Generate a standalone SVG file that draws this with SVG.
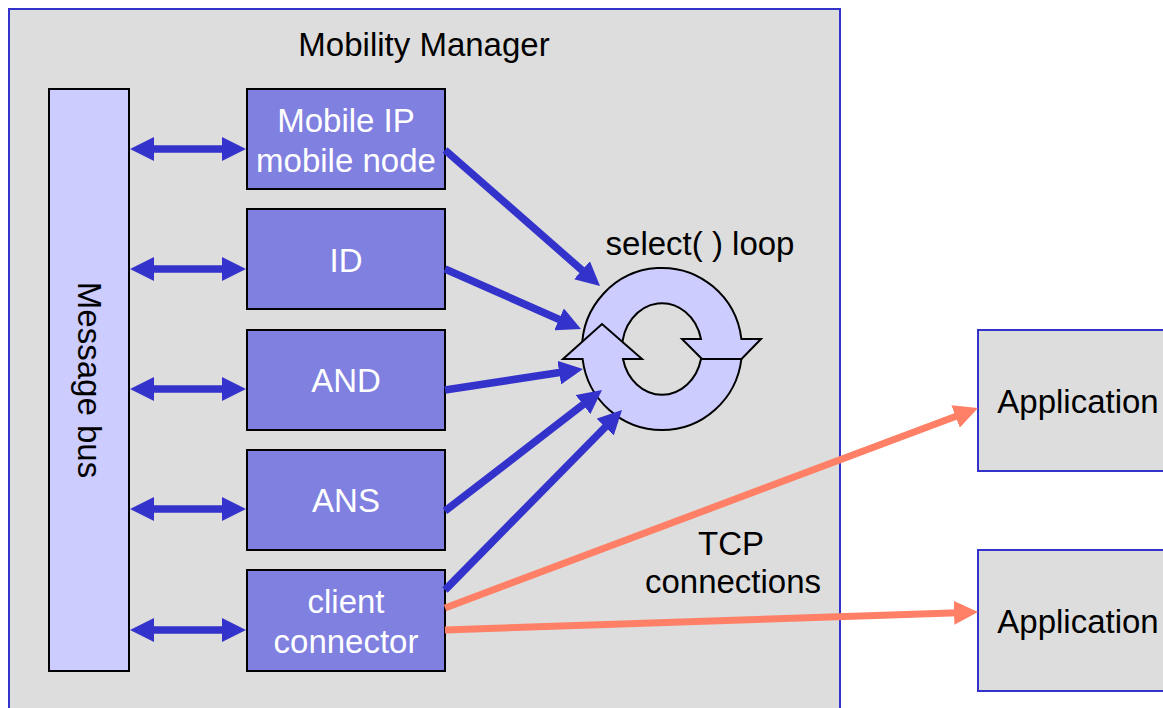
<svg xmlns="http://www.w3.org/2000/svg" width="1163" height="708" viewBox="0 0 1163 708">
<style>
text{font-family:"Liberation Sans",Arial,sans-serif;font-size:33px}
.box{fill:#8080e0;stroke:#000;stroke-width:2}
.bt{fill:#fff;text-anchor:middle}
.app{fill:#dddddd;stroke:#3333cc;stroke-width:2}
.blue{stroke:#3333cc;stroke-width:7.5;fill:none}
.orange{stroke:#ff8066;stroke-width:7;fill:none}
.loop{fill:#ccccff;stroke:#000;stroke-width:2;stroke-linejoin:miter}
</style>
<defs>
<marker id="ab" markerUnits="userSpaceOnUse" viewBox="0 0 24 24" markerWidth="24" markerHeight="24" refX="12" refY="12" orient="auto-start-reverse"><path d="M0,0 L24,12 L0,24 Z" fill="#3333cc"/></marker>
<marker id="ao" markerUnits="userSpaceOnUse" viewBox="0 0 24 24" markerWidth="24" markerHeight="24" refX="12" refY="12" orient="auto"><path d="M0,0 L24,12 L0,24 Z" fill="#ff8066"/></marker>
</defs>
<rect width="1163" height="708" fill="#fff"/>
<g id="mobility-manager">
<rect x="9" y="9" width="831" height="720" fill="#dddddd" stroke="#3333cc" stroke-width="2"/>
<text x="424" y="56" text-anchor="middle" fill="#000">Mobility Manager</text>
</g>
<g id="message-bus">
<rect x="49" y="89" width="80" height="582" fill="#ccccff" stroke="#000" stroke-width="2"/>
<text transform="translate(78,380) rotate(90)" text-anchor="middle" fill="#000">Message bus</text>
</g>
<g id="mobile-ip">
<rect class="box" x="247" y="89" width="198" height="100"/>
<text class="bt" x="346" y="132">Mobile IP</text>
<text class="bt" x="346" y="172">mobile node</text>
</g>
<g id="id">
<rect class="box" x="247" y="209" width="198" height="100"/>
<text class="bt" x="346" y="272">ID</text>
</g>
<g id="and">
<rect class="box" x="247" y="330" width="198" height="100"/>
<text class="bt" x="346" y="392">AND</text>
</g>
<g id="ans">
<rect class="box" x="247" y="450" width="198" height="100"/>
<text class="bt" x="346" y="512">ANS</text>
</g>
<g id="client-connector">
<rect class="box" x="247" y="570" width="198" height="101"/>
<text class="bt" x="346" y="613">client</text>
<text class="bt" x="346" y="653">connector</text>
</g>
<g id="select-loop">
<path class="loop" d="M582,349 A80,81 0 0 1 741.4,339 L761,339 L722,379 L682,339 L701,339 A40,46 0 0 0 622,349 Z"/>
<path class="loop" d="M741.4,359 A80,81 0 0 1 582.6,359 L563,359 L602,324 L642,359 L623,359 A40,46 0 0 0 701,359 Z"/>
<text x="700" y="255" text-anchor="middle" fill="#000">select( ) loop</text>
</g>
<g id="application-1">
<rect class="app" x="978" y="330" width="200" height="141"/>
<text x="1078" y="413" text-anchor="middle" fill="#000">Application</text>
</g>
<g id="application-2">
<rect class="app" x="978" y="550" width="200" height="141"/>
<text x="1078" y="633" text-anchor="middle" fill="#000">Application</text>
</g>
<g id="connectors">
<line class="blue" x1="142" y1="149" x2="234" y2="149" marker-start="url(#ab)" marker-end="url(#ab)"/>
<line class="blue" x1="142" y1="269" x2="234" y2="269" marker-start="url(#ab)" marker-end="url(#ab)"/>
<line class="blue" x1="142" y1="389" x2="234" y2="389" marker-start="url(#ab)" marker-end="url(#ab)"/>
<line class="blue" x1="142" y1="509" x2="234" y2="509" marker-start="url(#ab)" marker-end="url(#ab)"/>
<line class="blue" x1="142" y1="630" x2="234" y2="630" marker-start="url(#ab)" marker-end="url(#ab)"/>
<line class="blue" x1="445" y1="150" x2="591" y2="278.1" marker-end="url(#ab)"/>
<line class="blue" x1="445" y1="269" x2="570" y2="324.2" marker-end="url(#ab)"/>
<line class="blue" x1="445" y1="390" x2="571.1" y2="370.8" marker-end="url(#ab)"/>
<line class="blue" x1="445" y1="511" x2="592.5" y2="397.3" marker-end="url(#ab)"/>
<line class="blue" x1="445" y1="590" x2="613.6" y2="418.6" marker-end="url(#ab)"/>
<line class="orange" x1="445" y1="608" x2="966.8" y2="412.2" marker-end="url(#ao)"/>
<line class="orange" x1="445" y1="630" x2="966" y2="612.4" marker-end="url(#ao)"/>
<text x="731" y="555" text-anchor="middle" fill="#000">TCP</text>
<text x="733" y="593" text-anchor="middle" fill="#000">connections</text>
</g>
</svg>
